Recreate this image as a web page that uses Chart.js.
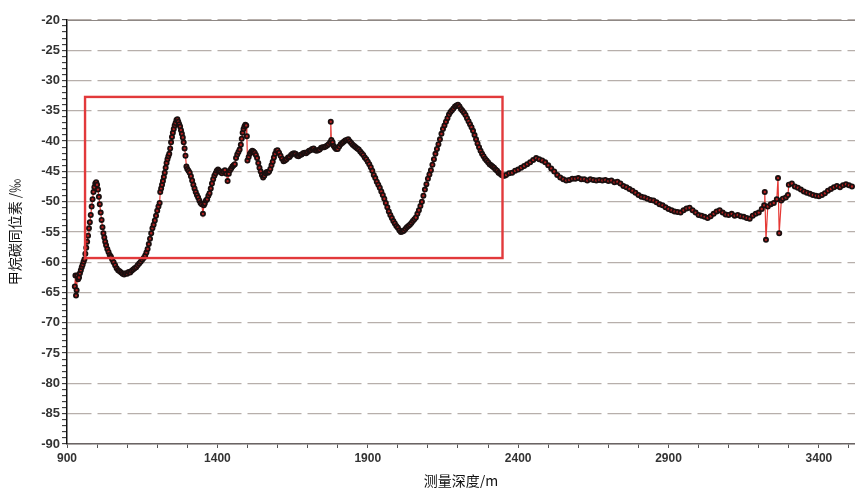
<!DOCTYPE html>
<html>
<head>
<meta charset="utf-8">
<script src="https://cdn.jsdelivr.net/npm/chart.js@4"></script>
<style>
  html, body { margin: 0; padding: 0; background: #fff; }
</style>
</head>
<body>
<canvas id="chartIso" width="855" height="488"></canvas>
<script>
// 测量深度 (m)
const depthM = [
  926, 928, 930, 932, 934, 937, 940, 943, 946, 949,
  952, 955, 958, 961, 964, 967, 970, 973, 976, 979,
  982, 985, 988, 991, 994, 997, 1000, 1003, 1006, 1009,
  1012, 1015, 1018, 1021, 1024, 1027, 1030, 1034, 1038, 1042,
  1046, 1050, 1055, 1060, 1065, 1070, 1075, 1080, 1085, 1090,
  1095, 1100, 1105, 1110, 1115, 1120, 1125, 1130, 1135, 1140,
  1145, 1150, 1155, 1160, 1164, 1168, 1172, 1176, 1180, 1184,
  1188, 1192, 1196, 1200, 1204, 1208, 1210, 1213, 1216, 1219,
  1222, 1225, 1228, 1231, 1234, 1237, 1240, 1243, 1246, 1249,
  1252, 1255, 1258, 1261, 1264, 1267, 1270, 1273, 1276, 1279,
  1282, 1285, 1288, 1291, 1294, 1297, 1300, 1304, 1308, 1312,
  1316, 1320, 1324, 1328, 1332, 1336, 1340, 1344, 1348, 1352,
  1355, 1358, 1362, 1366, 1370, 1374, 1378, 1382, 1386, 1390,
  1394, 1398, 1402, 1406, 1410, 1415, 1420, 1425, 1430, 1434,
  1438, 1442, 1446, 1450, 1454, 1458, 1462, 1466, 1470, 1474,
  1478, 1481, 1484, 1487, 1490, 1493, 1496, 1498, 1500, 1504,
  1508, 1512, 1516, 1520, 1524, 1528, 1532, 1536, 1540, 1544,
  1548, 1552, 1556, 1560, 1564, 1568, 1572, 1576, 1580, 1584,
  1588, 1592, 1596, 1600, 1605, 1610, 1615, 1620, 1625, 1630,
  1635, 1640, 1645, 1650, 1655, 1660, 1665, 1670, 1675, 1680,
  1685, 1690, 1695, 1700, 1705, 1710, 1715, 1720, 1725, 1730,
  1735, 1740, 1745, 1750, 1755, 1760, 1765, 1770, 1775, 1777,
  1779, 1783, 1787, 1791, 1795, 1800, 1805, 1810, 1815, 1820,
  1825, 1830, 1835, 1840, 1845, 1850, 1855, 1860, 1865, 1870,
  1875, 1880, 1885, 1890, 1895, 1900, 1905, 1910, 1915, 1920,
  1925, 1930, 1935, 1940, 1945, 1950, 1955, 1960, 1965, 1970,
  1975, 1980, 1985, 1990, 1995, 2000, 2005, 2010, 2015, 2020,
  2025, 2030, 2035, 2040, 2045, 2050, 2055, 2060, 2065, 2070,
  2075, 2080, 2085, 2090, 2095, 2100, 2105, 2110, 2115, 2120,
  2125, 2130, 2135, 2140, 2145, 2150, 2155, 2160, 2165, 2170,
  2175, 2180, 2185, 2190, 2195, 2200, 2205, 2210, 2215, 2220,
  2225, 2230, 2235, 2240, 2245, 2250, 2255, 2260, 2265, 2270,
  2275, 2280, 2285, 2290, 2295, 2300, 2305, 2310, 2315, 2320,
  2325, 2330, 2335, 2340, 2345, 2350, 2355, 2360, 2370, 2380,
  2390, 2400, 2410, 2420, 2430, 2440, 2450, 2460, 2470, 2480,
  2490, 2500, 2510, 2520, 2530, 2540, 2550, 2560, 2570, 2580,
  2590, 2600, 2610, 2620, 2630, 2640, 2650, 2660, 2670, 2680,
  2690, 2700, 2710, 2720, 2730, 2740, 2750, 2760, 2770, 2780,
  2790, 2800, 2810, 2820, 2830, 2840, 2850, 2860, 2870, 2880,
  2890, 2900, 2910, 2920, 2930, 2940, 2950, 2960, 2970, 2980,
  2990, 3000, 3010, 3020, 3030, 3040, 3050, 3060, 3070, 3080,
  3090, 3100, 3110, 3120, 3130, 3140, 3150, 3160, 3170, 3180,
  3190, 3200, 3210, 3218, 3220, 3224, 3230, 3240, 3250, 3260,
  3264, 3268, 3275, 3280, 3290, 3297, 3300, 3310, 3320, 3330,
  3340, 3350, 3360, 3370, 3380, 3390, 3400, 3410, 3420, 3430,
  3440, 3450, 3460, 3470, 3480, 3490, 3500, 3510
];

// 甲烷碳同位素 δ13C (‰)
const delta13C = [
  -64.0, -62.2, -65.5, -64.6, -62.2, -62.8, -62.5, -61.8, -61.3, -60.8,
  -60.4, -59.9, -59.5, -58.6, -57.6, -56.6, -55.6, -54.4, -53.4, -52.2,
  -50.8, -49.6, -48.4, -47.6, -47.0, -46.8, -47.2, -48.0, -49.2, -50.4,
  -51.8, -53.0, -54.2, -55.2, -55.9, -56.6, -57.2, -57.8, -58.3, -58.8,
  -59.1, -59.5, -60.0, -60.5, -61.0, -61.3, -61.5, -61.7, -61.9, -62.0,
  -61.8, -61.9, -61.6, -61.7, -61.4, -61.2, -61.0, -60.8, -60.5, -60.2,
  -59.9, -59.6, -59.3, -58.9, -58.4, -57.8, -57.0, -56.1, -55.2, -54.4,
  -53.8, -53.1, -52.3, -51.5, -50.8, -50.2, -48.4, -47.8, -47.2, -46.6,
  -45.9, -45.2, -44.4, -43.6, -43.0, -42.5, -42.1, -41.2, -40.2, -39.3,
  -38.6, -38.0, -37.4, -37.0, -36.5, -36.4, -36.8, -37.2, -37.6, -38.2,
  -38.8, -39.4, -40.2, -41.2, -42.4, -44.2, -44.6, -44.9, -45.2, -45.8,
  -46.5, -47.2, -47.8, -48.4, -48.9, -49.3, -49.8, -50.2, -50.4, -52.0,
  -50.6, -50.3, -49.8, -49.6, -49.0, -48.6, -47.8, -47.0, -46.3, -45.7,
  -45.3, -44.9, -44.7, -44.9, -45.1, -45.3, -45.0, -44.8, -45.4, -46.6,
  -45.4, -44.8, -44.5, -44.2, -44.0, -43.8, -42.8, -42.2, -41.8, -41.4,
  -40.6, -39.6, -38.6, -38.0, -37.6, -37.3, -37.4, -39.2, -43.2, -42.6,
  -42.1, -41.8, -41.6, -41.7, -41.9, -42.3, -42.8, -43.6, -44.4, -45.0,
  -45.6, -46.0, -45.7, -45.3, -45.1, -45.2, -45.0, -44.6, -44.0, -43.4,
  -42.7, -42.1, -41.6, -41.5, -41.9, -42.4, -42.9, -43.3, -43.2, -43.0,
  -42.7, -42.6, -42.3, -42.1, -42.0, -42.1, -42.4, -42.5, -42.3, -42.2,
  -42.0, -41.9, -42.0, -41.8, -41.6, -41.5, -41.3, -41.2, -41.5, -41.6,
  -41.5, -41.4, -41.1, -41.0, -41.0, -40.9, -40.7, -40.5, -40.2, -36.8,
  -39.8, -40.2, -40.8, -41.1, -41.3, -41.3, -40.9, -40.5, -40.3, -40.1,
  -39.9, -39.8, -39.7, -40.0, -40.3, -40.6, -40.8, -41.0, -41.2, -41.4,
  -41.7, -42.0, -42.3, -42.7, -43.0, -43.4, -43.8, -44.3, -44.9, -45.6,
  -46.1, -46.7, -47.2, -47.7, -48.3, -48.9, -49.5, -50.2, -50.9, -51.6,
  -52.2, -52.7, -53.2, -53.6, -54.0, -54.3, -54.7, -55.0, -54.9, -54.8,
  -54.5, -54.2, -54.0, -53.8, -53.5, -53.2, -52.9, -52.6, -52.0, -51.4,
  -50.7, -50.0, -49.0, -48.0, -47.1, -46.2, -45.5, -44.8, -43.9, -43.0,
  -42.1, -41.3, -40.5, -39.7, -38.8, -38.0, -37.4, -36.8, -36.2, -35.6,
  -35.2, -34.9, -34.6, -34.3, -34.1, -34.0, -34.3, -34.7, -35.0, -35.3,
  -35.7, -36.2, -36.7, -37.2, -37.7, -38.3, -39.0, -39.7, -40.4, -41.0,
  -41.6, -42.1, -42.5, -42.9, -43.2, -43.5, -43.8, -44.0, -44.2, -44.4,
  -44.7, -44.9, -45.2, -45.4, -45.6, -45.7, -45.7, -45.6, -45.3, -45.2,
  -44.9, -44.7, -44.4, -44.1, -43.8, -43.5, -43.1, -42.8, -43.0, -43.2,
  -43.5, -44.0, -44.5, -45.0, -45.6, -46.0, -46.3, -46.5, -46.4, -46.2,
  -46.2, -46.1, -46.3, -46.3, -46.5, -46.3, -46.4, -46.5, -46.4, -46.5,
  -46.4, -46.6, -46.5, -46.8, -46.7, -47.0, -47.4, -47.6, -47.9, -48.2,
  -48.5, -48.9, -49.2, -49.3, -49.5, -49.7, -49.8, -50.1, -50.4, -50.6,
  -50.9, -51.2, -51.4, -51.6, -51.7, -51.8, -51.4, -51.1, -51.0, -51.4,
  -51.8, -52.2, -52.3, -52.5, -52.7, -52.4, -52.0, -51.6, -51.4, -51.8,
  -52.1, -52.2, -52.0, -52.3, -52.2, -52.4, -52.5, -52.7, -52.8, -52.3,
  -52.0, -51.8, -51.2, -50.6, -48.4, -56.3, -50.8, -50.4, -50.2, -49.6,
  -46.1, -55.2, -49.8, -49.5, -49.3, -48.9, -47.2, -47.0, -47.5, -47.7,
  -48.0, -48.3, -48.5, -48.7, -48.9, -49.0, -49.1, -48.9, -48.6, -48.2,
  -47.9, -47.6, -47.4, -47.6, -47.3, -47.1, -47.3, -47.5
];

// labelled x ticks; minor tick marks every 100 m in between
const xTickLabels = [900, 1400, 1900, 2400, 2900, 3400];
const xMinorStep = 100;

// highlighted interval: depth from, depth to, value top, value bottom
const boxDepth = [960, 2348];
const boxValue = [-32.7, -59.3];

const gridColor = "#b7afab";
const labelFont = { family: "'Liberation Sans', Arial, sans-serif", size: 12, weight: "bold" };
const cjkFont = { family: "'Noto Sans CJK SC', sans-serif", size: 14 };

// red frame plus solid top edge of the plot
const frameBox = {
  id: "frameBox",
  afterDatasetsDraw(chart) {
    const { ctx, chartArea, scales } = chart;
    ctx.save();
    ctx.strokeStyle = "#8f8885";
    ctx.lineWidth = 1;
    ctx.beginPath();
    ctx.moveTo(chartArea.left, chartArea.top + 0.5);
    ctx.lineTo(chartArea.right, chartArea.top + 0.5);
    ctx.stroke();

    const x0 = scales.x.getPixelForValue(boxDepth[0]);
    const x1 = scales.x.getPixelForValue(boxDepth[1]);
    const y0 = scales.y.getPixelForValue(boxValue[0]);
    const y1 = scales.y.getPixelForValue(boxValue[1]);
    ctx.strokeStyle = "#e2393b";
    ctx.lineWidth = 2.4;
    ctx.strokeRect(x0, y0, x1 - x0, y1 - y0);
    ctx.restore();
  }
};

const points = depthM.map((d, i) => ({ x: d, y: delta13C[i] }));

new Chart(document.getElementById("chartIso"), {
  type: "scatter",
  data: {
    datasets: [{
      data: points,
      showLine: true,
      borderColor: "#e53935",
      borderWidth: 1.2,
      pointRadius: 2.1,
      pointBorderWidth: 1.8,
      pointBorderColor: "#1a0f0f",
      pointBackgroundColor: "#b52222",
    }]
  },
  options: {
    responsive: false,
    animation: false,
    layout: { autoPadding: false, padding: { top: 20, right: 0, bottom: 0, left: 0 } },
    plugins: { legend: { display: false }, tooltip: { enabled: false } },
    scales: {
      x: {
        type: "linear",
        min: 900,
        max: 3520,
        afterBuildTicks(scale) {
          const ticks = [];
          for (let v = 900; v <= 3500; v += xMinorStep) ticks.push({ value: v });
          scale.ticks = ticks;
        },
        afterFit(scale) { scale.height = 44; },
        grid: { drawOnChartArea: false, tickLength: 4, tickColor: "#555", tickWidth: 1 },
        border: { display: true, color: "#6a6464", width: 1.5 },
        ticks: {
          autoSkip: false,
          maxRotation: 0,
          padding: 3,
          color: "#333",
          font: labelFont,
          callback: (v) => (xTickLabels.includes(v) ? String(v) : "")
        },
        title: {
          display: true,
          text: "测量深度/m",
          color: "#111",
          font: { ...cjkFont, lineHeight: 1 },
          padding: { top: 0, bottom: 0 }
        }
      },
      y: {
        min: -90,
        max: -20,
        afterFit(scale) { scale.width = 67; },
        grid: {
          color: (c) => (c.tick && c.tick.value % 5 === 0 ? gridColor : "rgba(0,0,0,0)"),
          lineWidth: 1.3,
          tickColor: "#222",
          tickLength: 5,
          tickWidth: 1
        },
        border: { display: true, color: "#111", width: 1.5, dash: [24, 6] },
        ticks: {
          stepSize: 1,
          autoSkip: false,
          padding: 2,
          color: "#333",
          font: { ...labelFont, size: 13 },
          callback: (v) => (v % 5 === 0 ? String(v) : "")
        },
        title: {
          display: true,
          text: "甲烷碳同位素 /‰",
          color: "#111",
          font: cjkFont,
          padding: { top: 6, bottom: 0 }
        }
      }
    }
  },
  plugins: [frameBox]
});
</script>
</body>
</html>
